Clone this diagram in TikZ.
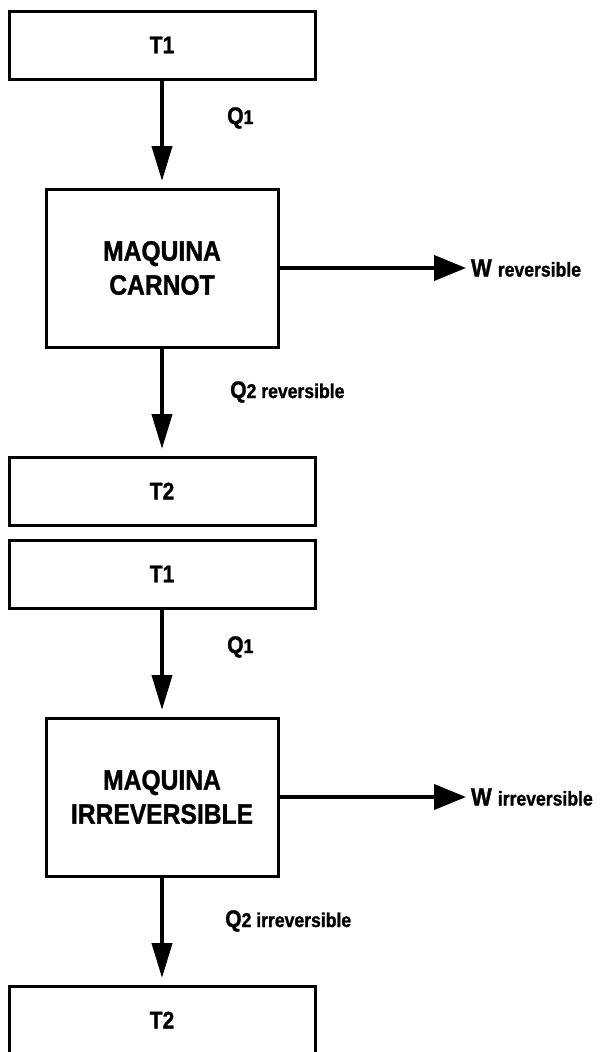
\documentclass[tikz,border=0pt]{standalone}
\usepackage{fontspec}
\setmainfont{Liberation Sans}[FakeStretch=0.88, BoldFeatures={FakeBold=1.2}]
\usetikzlibrary{positioning, arrows.meta}
\tikzset{
  tempbox/.style={draw, line width=3pt, minimum width=306pt, minimum height=68pt,
    outer sep=0pt, inner sep=0pt, font=\bfseries\fontsize{24}{28}\selectfont},
  machinebox/.style={draw, line width=3pt, minimum width=232pt, minimum height=158pt,
    outer sep=0pt, align=center, font=\bfseries\fontsize{28}{34}\selectfont},
  heatarrow/.style={-{Triangle[length=35pt, width=20pt]}, line width=4pt, shorten >=8pt},
  workarrow/.style={-{Triangle[length=32pt, width=25pt]}, line width=4pt},
  qlabel/.style={anchor=west, inner sep=2pt, font=\bfseries\fontsize{24}{28}\selectfont},
  wlabel/.style={inner sep=5pt, outer sep=0pt, font=\bfseries\fontsize{25}{28}\selectfont},
}
\newcommand{\lbltxt}[1]{{\fontsize{20}{24}\selectfont #1}}

\begin{document}
\begin{tikzpicture}

  \useasboundingbox (0,0) rectangle (603pt,-1052pt);

  % === Carnot engine ===
  \node[tempbox] (hot1) at (162pt,-45pt) {T1};
  \node[machinebox, below=110pt of hot1] (carnot) {MAQUINA\\CARNOT};
  \node[tempbox, below=110pt of carnot] (cold1) {T2};

  \draw[heatarrow] (hot1) -- (carnot);
  \draw[heatarrow] (carnot) -- (cold1);

  \node[wlabel, right=188pt of carnot] (wrev) {W \lbltxt{reversible}};
  \draw[workarrow] (carnot) -- (wrev);

  \node[qlabel] (q1rev) at ([shift={(63pt,-39pt)}]hot1.south) {Q\lbltxt{1}};
  \node[qlabel] (q2rev) at ([shift={(66pt,-45pt)}]carnot.south) {Q\lbltxt{2 reversible}};

  % === Irreversible engine ===
  \node[tempbox, below=15pt of cold1] (hot2) {T1};
  \node[machinebox, below=110pt of hot2] (irrev) {MAQUINA\\IRREVERSIBLE};
  \node[tempbox, below=110pt of irrev] (cold2) {T2};

  \draw[heatarrow] (hot2) -- (irrev);
  \draw[heatarrow] (irrev) -- (cold2);

  \node[wlabel, right=188pt of irrev] (wirr) {W \lbltxt{irreversible}};
  \draw[workarrow] (irrev) -- (wirr);

  \node[qlabel] (q1irr) at ([shift={(63pt,-39pt)}]hot2.south) {Q\lbltxt{1}};
  \node[qlabel] (q2irr) at ([shift={(61pt,-45pt)}]irrev.south) {Q\lbltxt{2 irreversible}};

\end{tikzpicture}
\end{document}
